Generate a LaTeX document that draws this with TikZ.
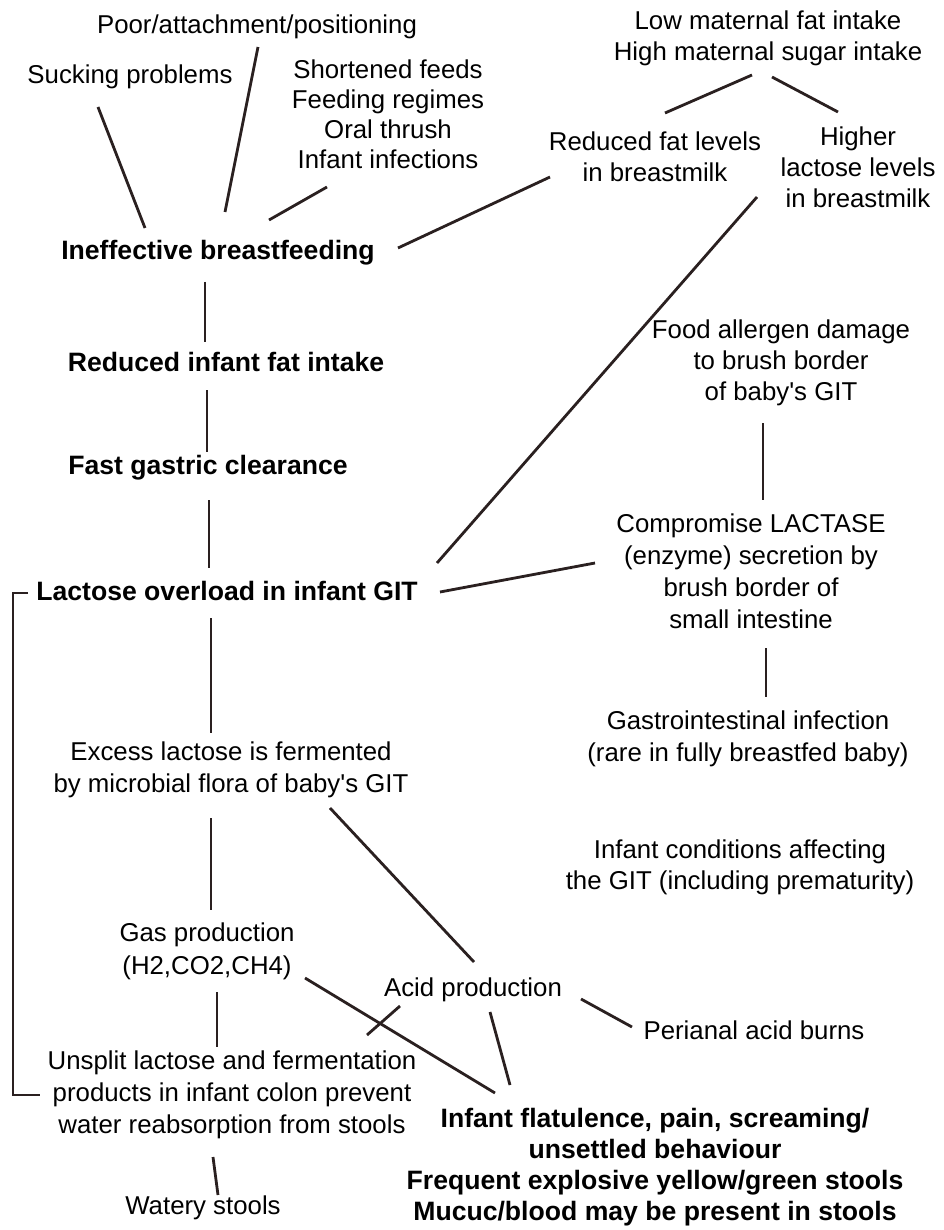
\documentclass[tikz,border=0pt]{standalone}
\usepackage{fontspec}
\setmainfont{Liberation Sans}
\definecolor{linkcol}{RGB}{42,32,32}
\tikzset{
  txt/.style={align=center,inner sep=0pt,font=\fontsize{25.8}{31}\selectfont},
  bld/.style={txt,font=\fontsize{26.6}{31}\selectfont\bfseries},
  link/.style={draw=linkcol,line width=2.8pt}
}
\begin{document}
\begin{tikzpicture}[x=1pt,y=-1pt]
      \path[use as bounding box,fill=white] (0,0) rectangle (943,1230);

      \node[txt] (poor) at (257,27) {Poor/attachment/positioning};
      \node[txt] (suck) at (130,77) {Sucking problems};
      \node[txt,font=\fontsize{25.8}{30}\selectfont] (feeds) at (388,114) {Shortened feeds\\Feeding regimes\\Oral thrush\\Infant infections};
      \node[txt] (lowfat) at (768,38) {Low maternal fat intake\\High maternal sugar intake};
      \node[txt] (redfat) at (655,157) {Reduced fat levels\\in breastmilk};
      \node[txt] (higher) at (858,167) {Higher\\lactose levels\\in breastmilk};
      \node[bld] (ineff) at (218,253) {Ineffective breastfeeding};
      \node[bld] (redint) at (226,362) {Reduced infant fat intake};
      \node[bld] (fast) at (208,468) {Fast gastric clearance};
      \node[bld] (overload) at (227,591) {Lactose overload in infant GIT};
      \node[txt] (food) at (781,363) {Food allergen damage\\to brush border\\of baby\textquotesingle s GIT};
      \node[txt,font=\fontsize{25.8}{32}\selectfont] (compr) at (751,571) {Compromise LACTASE\\(enzyme) secretion by\\brush border of\\small intestine};
      \node[txt,font=\fontsize{25.8}{32}\selectfont] (gastro) at (748,739) {Gastrointestinal infection\\(rare in fully breastfed baby)};
      \node[txt,font=\fontsize{25.8}{32}\selectfont] (excess) at (231,770) {Excess lactose is fermented\\by microbial flora of baby\textquotesingle s GIT};
      \node[txt] (cond) at (740,867) {Infant conditions affecting\\the GIT (including prematurity)};
      \node[txt,font=\fontsize{25.8}{33}\selectfont] (gas) at (207,951) {Gas production\\(H2,CO2,CH4)};
      \node[txt] (acid) at (473,990) {Acid production};
      \node[txt] (peri) at (754,1030) {Perianal acid burns};
      \node[txt,font=\fontsize{25.8}{32}\selectfont] (unsplit) at (232,1095) {Unsplit lactose and fermentation\\products in infant colon prevent\\water reabsorption from stools};
      \node[txt] (watery) at (203,1208) {Watery stools};
      \node[bld] (symp) at (655,1167) {Infant flatulence, pain, screaming/\\unsettled behaviour\\Frequent explosive yellow/green stools\\Mucuc/blood may be present in stools};

      \draw[link] ([shift={(-32,30)}]suck.center) -- ([shift={(-73,-25)}]ineff.center);
      \draw[link] ([shift={(1,20)}]poor.center) -- ([shift={(7,-41)}]ineff.center);
      \draw[link] ([shift={(-61,73)}]feeds.center) -- ([shift={(51,-33)}]ineff.center);
      \draw[link] ([shift={(-105,20)}]redfat.center) -- ([shift={(180,-5)}]ineff.center);
      \draw[link] ([shift={(-16,37)}]lowfat.center) -- ([shift={(10,-44)}]redfat.center);
      \draw[link] ([shift={(4,39)}]lowfat.center) -- ([shift={(-20,-55)}]higher.center);
      \draw[link] ([shift={(-101,30)}]higher.center) -- ([shift={(210,-28)}]overload.center);
      \draw[link] ([shift={(-13,29)}]ineff.center) -- ([shift={(-21,-20)}]redint.center);
      \draw[link] ([shift={(-19,28)}]redint.center) -- ([shift={(-1,-16)}]fast.center);
      \draw[link] ([shift={(1,32)}]fast.center) -- ([shift={(-18,-23)}]overload.center);
      \draw[link] ([shift={(-18,60)}]food.center) -- ([shift={(12,-71)}]compr.center);
      \draw[link] ([shift={(-156,-8)}]compr.center) -- ([shift={(213,1)}]overload.center);
      \draw[link] ([shift={(15,77)}]compr.center) -- ([shift={(18,-42)}]gastro.center);
      \draw[link] ([shift={(-16,27)}]overload.center) -- ([shift={(-20,-37)}]excess.center);
      \draw[link] ([shift={(-20,48)}]excess.center) -- ([shift={(4,-41)}]gas.center);
      \draw[link] ([shift={(99,38)}]excess.center) -- ([shift={(1,-28)}]acid.center);
      \draw[link] ([shift={(98,27)}]gas.center) -- ([shift={(-160,-74)}]symp.center);
      \draw[link] ([shift={(-73,16)}]acid.center) -- ([shift={(135,-60)}]unsplit.center);
      \draw[link] ([shift={(17,22)}]acid.center) -- ([shift={(-145,-82)}]symp.center);
      \draw[link] ([shift={(108,9)}]acid.center) -- ([shift={(-122,-3)}]peri.center);
      \draw[link] ([shift={(10,41)}]gas.center) -- ([shift={(-15,-48)}]unsplit.center);
      \draw[link] ([shift={(-19,62)}]unsplit.center) -- ([shift={(15,-13)}]watery.center);
      \draw[link] ([shift={(-199,2)}]overload.center) -| ([shift={(-219,0)}]unsplit.center) -- ([shift={(-192,0)}]unsplit.center);

\end{tikzpicture}
\end{document}
